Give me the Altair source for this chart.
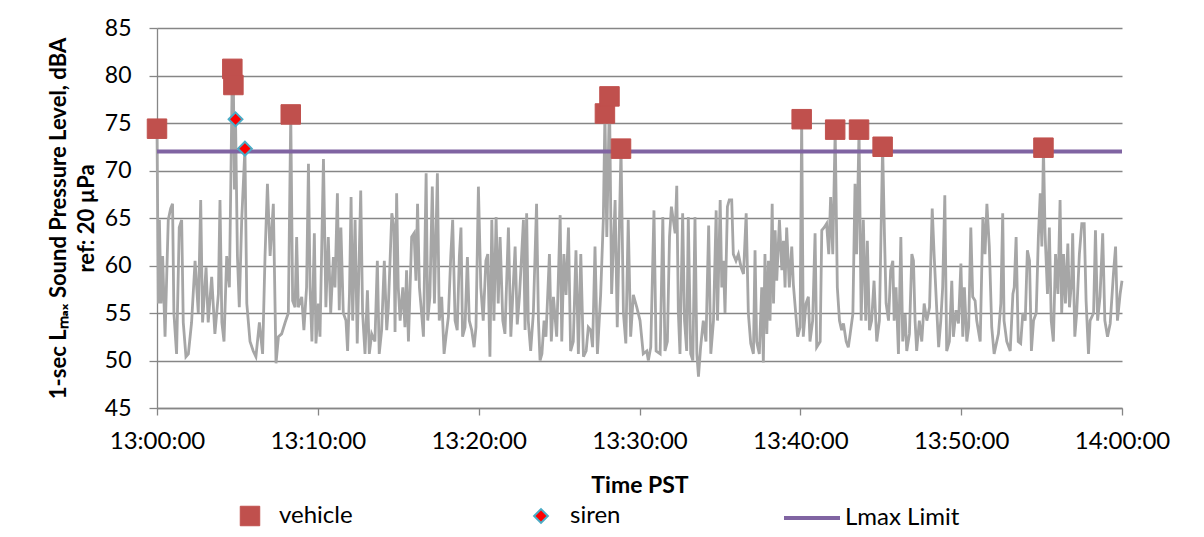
import altair as alt
import pandas as pd

# ---- data (seconds after 13:00:00, dBA) ----
gray_sec = [
    0, 5, 9, 15, 21, 30, 42, 51, 58, 63, 73, 83, 92, 98, 108, 117, 129, 142, 154, 163,
    170, 183, 191, 204, 216, 229, 235, 242, 250, 260, 270, 276, 281, 285, 289, 293, 300, 307, 316, 328,
    335, 347, 359, 369, 382, 394, 403, 412, 422, 434,
    444, 453, 465, 478, 490, 499, 506, 515, 521, 527, 540, 548, 558, 565, 571, 578, 587, 593, 602, 608,
    621, 630, 639, 648, 658, 664, 673, 680, 686, 695, 705, 711, 718, 724, 730, 739, 747, 760, 767, 776,
    785, 792, 801, 813, 822, 829, 838, 848, 857, 863, 876, 884,
    888, 894, 900, 907, 917, 925, 931, 938, 950, 959, 966, 972, 979, 987, 994, 1004, 1010, 1018, 1027, 1035,
    1046, 1053, 1062, 1071, 1078, 1087, 1096, 1103, 1112, 1120, 1128, 1134, 1140, 1149, 1158, 1165, 1174, 1183, 1190, 1199,
    1208, 1217, 1227, 1234, 1242, 1249, 1257, 1265, 1273, 1280, 1290, 1298, 1311, 1320,
    1336, 1344, 1352, 1360, 1367, 1373, 1379, 1385, 1394, 1404, 1416, 1423, 1429, 1436, 1444, 1451, 1464, 1471, 1479, 1491,
    1504, 1510, 1518, 1526, 1535, 1543, 1553, 1563, 1572, 1581, 1591, 1601, 1609, 1618, 1625, 1634, 1643, 1655, 1665, 1671,
    1678, 1688, 1696, 1709, 1717, 1731, 1740, 1749, 1758, 1767, 1777,
    1790, 1802, 1814, 1827, 1833, 1842, 1854, 1862, 1877, 1887, 1895, 1904, 1912, 1919, 1926, 1933, 1939, 1945, 1951, 1961,
    1968, 1976, 1982, 1991, 1999, 2007, 2014, 2020, 2028, 2038, 2048, 2058, 2066, 2076, 2086, 2091, 2101, 2107, 2113, 2119,
    2128, 2135, 2144, 2150, 2160, 2169, 2179, 2188, 2198, 2206, 2215, 2225,
    2231, 2237, 2247, 2256, 2262, 2268, 2275, 2281, 2287, 2295, 2300, 2306, 2312, 2322, 2331, 2337, 2343, 2349, 2359, 2368,
    2374, 2383, 2390, 2399, 2405, 2411, 2421, 2430, 2436, 2446, 2455, 2461, 2474, 2480, 2489, 2498, 2506, 2513, 2521, 2530,
    2538, 2546, 2554, 2561, 2571, 2579, 2586, 2596, 2604, 2610, 2619, 2627, 2635, 2644, 2650, 2658, 2666,
    2675, 2685, 2695, 2707, 2714, 2720, 2729, 2737, 2745, 2750, 2757, 2766, 2775, 2782, 2791, 2797, 2807, 2816, 2822, 2828,
    2834, 2844, 2853, 2862, 2872, 2882, 2892, 2899, 2909, 2916, 2924, 2931, 2939, 2946, 2956, 2965, 2971, 2981, 2990, 2999,
    3006, 3012, 3021, 3028, 3036, 3043, 3052, 3058, 3071, 3081, 3089, 3096, 3105, 3114, 3123,
    3139, 3148, 3155, 3160, 3170, 3183, 3193, 3198, 3205, 3213, 3222, 3230, 3239, 3247, 3255, 3262, 3270, 3280, 3288, 3295,
    3301, 3307, 3313, 3322, 3329, 3336, 3344, 3352, 3361, 3369, 3375, 3382, 3389, 3398, 3404, 3412, 3416, 3424, 3431, 3441,
    3450, 3459, 3466, 3475, 3481, 3494, 3501, 3509, 3518, 3528, 3536, 3546, 3556, 3568, 3576, 3583, 3593, 3600,
]
gray_db = [
    74.4, 56, 64.8, 56, 61, 52.5, 64.8, 66, 66.5, 55, 50.7, 64, 64.8, 54, 50.4, 50.7, 54, 60.5, 55, 66.9,
    54, 59.8, 54, 58.8, 52.8, 57, 66.9, 54, 52, 61, 57.7, 70, 80.7, 79.0, 68, 75.4, 61, 55.6, 64.8, 72.3,
    56, 52, 51, 50.4, 54, 50.7, 61, 68.6, 61, 66.5,
    49.7, 52.5, 52.8, 54, 55, 75.9, 56.3, 55.6, 63, 55.6, 56.7, 53.2, 57.7, 70.7, 57.7, 52, 63.4, 51.8, 56, 52.5,
    71.2, 55.6, 63, 55, 60.9, 57.7, 67.6, 55.3, 64, 55, 54.2, 51, 57, 67.2, 54.2, 64.8, 51.8, 67.9, 55, 50.7,
    57.4, 50.7, 52.8, 52, 60.5, 50.7, 53.2, 60.5, 53.2, 55.6, 65.5, 64,
    53, 67.6, 57.7, 54.2, 57.7, 53.5, 59.5, 52, 63, 63.4, 58.4, 66.5, 57.7, 55, 52.5, 69.7, 54.2, 56.7, 68.3, 56,
    69.7, 54.2, 56.7, 50.7, 52.5, 54.6, 61, 64.8, 54.2, 53.2, 61, 64, 52.5, 53.5, 60.9, 54.2, 53.2, 51.4, 53.5, 68.3,
    57.7, 54.2, 60.5, 61.2, 50.4, 64.8, 54.2, 65.1, 56, 63, 54.2, 52.8, 64, 52.5,
    62, 53.8, 56.7, 60.9, 64.8, 53.2, 65.5, 54.2, 51, 55, 66.5, 54.2, 50, 50.7, 54.2, 52.5, 61.2, 52, 56.7, 52.5,
    65.3, 52, 61.2, 56.9, 64, 51, 52, 61.6, 50.7, 61.2, 50.4, 51, 53.5, 53.2, 51.4, 62, 50.7, 56.9, 64.8, 76.0,
    63, 77.8, 57, 66.9, 53.5, 72.3, 55, 51.8, 64.8, 52.5, 56.9,
    55.6, 54.2, 50.7, 51, 50, 51.4, 65.8, 51, 50.7, 65.1, 51, 52, 63, 66.2, 64.8, 63.4, 68.4, 55, 50.7, 65.5,
    54.2, 51, 65.1, 50.7, 50, 65.1, 50.7, 48.3, 51.4, 54.2, 52, 64.2, 50.7, 54.2, 65.8, 54.2, 66.9, 57.7, 60.5, 55,
    66.2, 66.9, 66.9, 61.2, 60.5, 61.2, 59.8, 59.1, 65.5, 55, 51.8, 50.7,
    61.6, 52, 50.7, 57.7, 49.8, 61.2, 52.8, 60.5, 54.2, 66.5, 56, 63.7, 58.4, 64.8, 59.5, 62.6, 57.7, 64, 57.7, 62,
    58, 54.9, 52.5, 53.5, 75.4, 52.5, 56, 56.7, 52, 54.2, 63.4, 51.4, 52, 63.7, 64, 64.4, 61.2, 67.2, 61.2, 74.3,
    57.7, 54.2, 53.2, 53.9, 52, 51.4, 52.8, 54.9, 68.6, 61.2, 74.3, 54.2, 64.8, 54.2, 62.6, 53.2, 54.2,
    58.4, 52, 54.2, 72.5, 63, 56, 54.2, 59.5, 60.5, 54.2, 57.7, 50.7, 63, 52, 54.9, 51, 52.8, 61.2, 60.5, 54.2,
    51, 54.2, 52, 56, 54.2, 55.6, 66, 61.2, 55.3, 51.4, 54.2, 57.7, 67.4, 51, 52, 58.4, 52.5, 55.3, 53.9, 60.2,
    52.5, 57.7, 52, 53.5, 64, 56.7, 56.3, 54.2, 52, 65.1, 61.2, 66.5, 62, 53.5, 50.7,
    52.8, 56, 65.5, 54.2, 52, 51, 57, 57.7, 63, 52, 51.8, 55, 54.2, 61.6, 60.5, 51, 54.2, 55, 63, 67.6,
    62, 72.4, 63.4, 57, 64, 54.2, 52, 61.2, 57, 66.9, 55, 61.2, 56, 62.3, 55.6, 58.4, 63.4, 52.5, 55, 61.2,
    64.4, 64.4, 56.3, 50.7, 54.2, 55, 63.7, 54.2, 56.7, 63.4, 54.2, 52.5, 53.9, 59.1, 62, 54.2, 57, 58.4,
]
vehicle_sec = [0, 281, 285, 499, 1671, 1688, 1731, 2405, 2530, 2619, 2707, 3307]
vehicle_db = [74.4, 80.7, 79.0, 75.9, 76.0, 77.8, 72.3, 75.4, 74.3, 74.3, 72.5, 72.4]
siren_sec = [293, 328]
siren_db = [75.4, 72.3]
lmax_limit = [72]
marker_names = ["vehicle", "siren"]
limit_names = ["Lmax Limit"]
y_ticks = [45, 50, 55, 60, 65, 70, 75, 80, 85]

base = pd.Timestamp("2016-01-01 13:00:00")


def to_time(secs):
    return [(base + pd.Timedelta(seconds=s)).strftime("%Y-%m-%dT%H:%M:%S") for s in secs]


gray_df = pd.DataFrame({"time": to_time(gray_sec), "db": gray_db})
veh_df = pd.DataFrame({"time": to_time(vehicle_sec), "db": vehicle_db, "series": "vehicle"})
sir_df = pd.DataFrame({"time": to_time(siren_sec), "db": siren_db, "series": "siren"})
lim_df = pd.DataFrame({"db": lmax_limit, "limit": limit_names})


def dt(h, m):
    return alt.DateTime(year=2016, month=1, date=1, hours=h, minutes=m)


FONT = "Lato"
AX = "#868686"

x_enc = alt.X(
    "time:T",
    scale=alt.Scale(domain=[dt(13, 0), dt(14, 0)]),
    axis=alt.Axis(
        values=[dt(13, m) for m in range(0, 60, 10)] + [dt(14, 0)],
        format="%H:%M:%S", grid=False, domainColor=AX, domainWidth=1.3,
        tickColor=AX, tickSize=7, tickWidth=1.3, labelFont=FONT, labelFontSize=24,
        labelColor="black", labelPadding=14, labelFlush=False, labelOverlap=False,
        title="Time PST", titleFont=FONT, titleFontSize=23, titleFontWeight="bold",
        titleColor="black", titleBaseline="alphabetic", titleY=84,
    ),
)
y_enc = alt.Y(
    "db:Q",
    scale=alt.Scale(domain=[45, 85], nice=False, zero=False),
    axis=alt.Axis(
        values=y_ticks, grid=True, gridColor=AX, gridWidth=1.3, domainColor=AX,
        domainWidth=1.3, tickColor=AX, tickSize=8, tickWidth=1.3, labelFont=FONT,
        labelFontSize=23, labelColor="black", labelPadding=18,
        title=["1-sec L\u2098\u2090\u2093 Sound Pressure Level, dBA", "ref: 20 \u00b5Pa"],
        titleFont=FONT, titleFontSize=22, titleFontWeight="bold", titleColor="black",
        titleAngle=270, titleAlign="center", titleBaseline="alphabetic",
        titleX=-92, titleY=190, titleLineHeight=28,
    ),
)

leg_a = alt.Legend(
    title=None, orient="none", legendX=81, legendY=476, direction="horizontal",
    columns=2, columnPadding=176, labelOffset=17, labelFont=FONT, labelFontSize=24,
    labelColor="black", padding=0, symbolOpacity=1,
)
fill_enc = alt.Fill("series:N", scale=alt.Scale(domain=marker_names, range=["#C0504D", "#FF0000"]), legend=leg_a)
stroke_enc = alt.Stroke("series:N", scale=alt.Scale(domain=marker_names, range=["#C0504D", "#4BACC6"]), legend=leg_a)
shape_enc = alt.Shape("series:N", scale=alt.Scale(domain=marker_names, range=["square", "diamond"]), legend=leg_a)
size_enc = alt.Size("series:N", scale=alt.Scale(type="ordinal", domain=marker_names, range=[380, 190]), legend=leg_a)
sw_enc = alt.StrokeWidth("series:N", scale=alt.Scale(type="ordinal", domain=marker_names, range=[1, 2]), legend=leg_a)

leg_b = alt.Legend(
    title=None, orient="none", legendX=625, legendY=460, symbolType="stroke",
    symbolSize=3136, symbolStrokeWidth=4, labelOffset=3, labelFont=FONT, labelFontSize=24,
    labelColor="black", padding=0, symbolOpacity=1,
)
color_enc = alt.Color("limit:N", scale=alt.Scale(domain=limit_names, range=["#8064A2"]), legend=leg_b)

gray = alt.Chart(gray_df).mark_line(color="#A6A6A6", strokeWidth=2.8).encode(x=x_enc, y=y_enc)
limit = alt.Chart(lim_df).mark_rule(strokeWidth=4).encode(y=y_enc, color=color_enc)
vehicle = alt.Chart(veh_df).mark_point(filled=True, opacity=1).encode(
    x=x_enc, y=y_enc, fill=fill_enc, stroke=stroke_enc, shape=shape_enc, size=size_enc, strokeWidth=sw_enc)
siren = alt.Chart(sir_df).mark_point(filled=True, opacity=1).encode(
    x=x_enc, y=y_enc, fill=fill_enc, stroke=stroke_enc, shape=shape_enc, size=size_enc, strokeWidth=sw_enc)

chart = (
    alt.layer(gray, limit, vehicle, siren)
    .properties(
        width=965, height=380,
        autosize=alt.AutoSizeParams(type="none"),
        padding={"left": 149, "top": 20, "right": 74, "bottom": 129},
        background="white",
    )
    .configure_view(stroke=None)
)

chart.save("out.html", embed_options={"renderer": "svg", "actions": False})
